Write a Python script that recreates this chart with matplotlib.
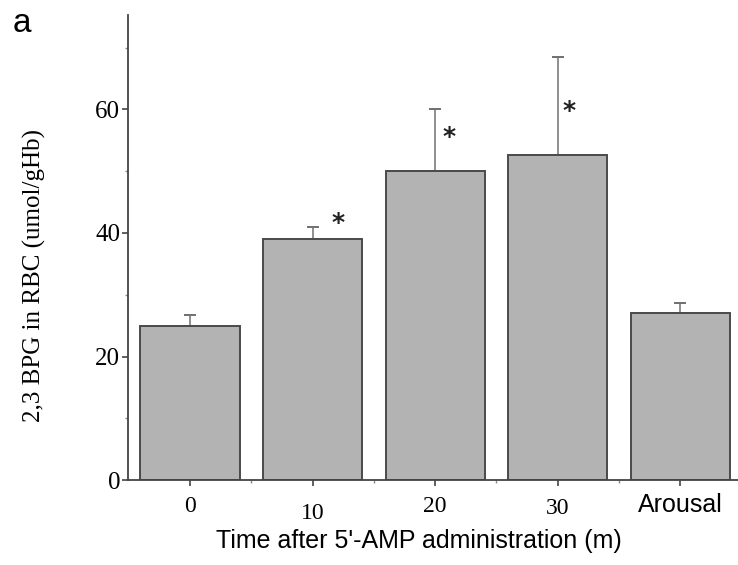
import matplotlib
matplotlib.use("Agg")
from matplotlib import pyplot as plt
from matplotlib.ticker import MultipleLocator
import numpy as np

# data
groups = ['0', '10', '20', '30', 'Arousal']
bpg = [25, 39, 50, 52.7, 27]
err = [1.8, 1.9, 10, 15.8, 1.6]
star_x = [1.21, 2.11, 3.09]
star_y = [41.6, 55.5, 59.8]

fig = plt.figure(figsize=(7.38, 5.65), dpi=100)
ax = fig.add_axes([0.1734, 0.1504, 0.8266, 0.8231])

x = np.arange(len(groups))
ax.bar(x, bpg, width=0.81, color='#b3b3b3', edgecolor='#4a4a4a', linewidth=1.4, zorder=2)
ax.errorbar(x, bpg, yerr=[np.zeros(len(err)), err], fmt='none', ecolor='#707070',
            elinewidth=1.1, capsize=4.3, capthick=1.4, zorder=1)

for sx, sy in zip(star_x, star_y):
    ax.text(sx, sy, '*', fontsize=18, fontweight='bold', ha='center', va='center',
            color='#222222', family='DejaVu Sans')

ax.set_xlim(-0.506, 4.47)
ax.set_ylim(0, 75.3)
ax.spines['top'].set_visible(False)
ax.spines['right'].set_visible(False)
for s in ['left', 'bottom']:
    ax.spines[s].set_linewidth(1.3)
    ax.spines[s].set_color('#444444')

ax.set_yticks([0, 20, 40, 60])
ax.yaxis.set_minor_locator(MultipleLocator(10))
ax.set_xticks(x)
ax.set_xticks(x[:-1] + 0.5, minor=True)
ax.tick_params(which='major', length=4.5, width=1.2, color='#444444')
ax.tick_params(which='minor', length=2.5, width=1.0, color='#888888')
ax.tick_params(axis='y', labelsize=18, pad=1)
for lab in ax.get_yticklabels():
    lab.set_family('Liberation Serif')

# x tick labels drawn by hand, the original ones sit at staggered heights
ax.set_xticklabels([])
label_y = [-0.056, -0.071, -0.056, -0.062, -0.054]
xt = ax.get_xaxis_transform()
for i, g in enumerate(groups):
    if g == 'Arousal':
        ax.text(x[i], label_y[i], g, transform=xt, ha='center', va='center',
                family='Liberation Sans', fontsize=18, clip_on=False)
    else:
        ax.text(x[i], label_y[i], g, transform=xt, ha='center', va='center',
                family='Liberation Serif', fontsize=17, clip_on=False)

ax.text(0.477, -0.131, "Time after 5'-AMP administration (m)", transform=ax.transAxes,
        ha='center', va='center', family='Liberation Sans', fontsize=18)
ax.set_ylabel('2,3 BPG in RBC (umol/gHb)', family='Liberation Serif', fontsize=18)
ax.yaxis.set_label_coords(-0.135, 0.44)

fig.text(0.017, 0.985, 'a', family='Liberation Sans', fontsize=24, va='top', ha='left')

fig.savefig('out.png', dpi=100)
